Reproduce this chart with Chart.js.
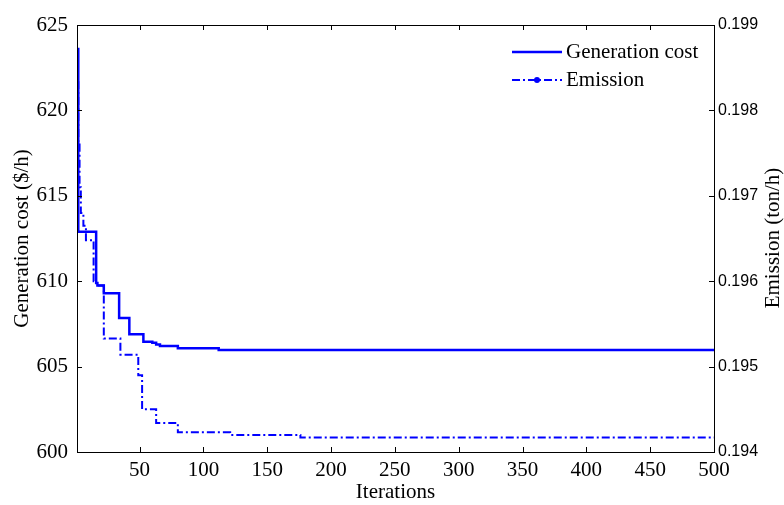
<!DOCTYPE html>
<html>
<head>
<meta charset="utf-8">
<script src="https://cdn.jsdelivr.net/npm/chart.js@4.4.1/dist/chart.umd.min.js"></script>
<style>
  html, body { margin: 0; padding: 0; background: #fff; }
  #wrap { width: 784px; height: 505px; }
</style>
</head>
<body>
<div id="wrap"><canvas id="convergence-chart"></canvas></div>
<script>
// Best-so-far generation cost and emission per iteration (values at each change point)
const costIters = [1, 2, 16, 17, 22, 34, 42, 53, 60, 63, 66, 80, 112, 500];
const costValues = [623.6, 612.9, 609.9, 609.75, 609.3, 607.85, 606.9, 606.45, 606.4, 606.3, 606.2, 606.08, 605.97, 605.97];

const emisIters = [1, 2, 3, 4, 6, 8, 14, 16, 22, 35, 49, 52, 63, 80, 121, 176, 500];
const emisValues = [0.19833, 0.1976, 0.1971, 0.1968, 0.19665, 0.19648, 0.1960, 0.19595, 0.19533, 0.19514, 0.1949, 0.1945, 0.19434, 0.19423, 0.1942, 0.19417, 0.19417];

const xTicks = [50, 100, 150, 200, 250, 300, 350, 400, 450, 500];
const costTicks = [600, 605, 610, 615, 620, 625];
const emisTicks = [0.194, 0.195, 0.196, 0.197, 0.198, 0.199];

const SERIF = '"Liberation Serif", "Times New Roman", serif';
const SANS = '"Liberation Sans", Arial, sans-serif';
const BLUE = 'rgb(0, 0, 255)';
const DASH_DOT = [8, 3, 2, 3];

Chart.defaults.color = '#000';

const toPoints = (xs, ys) => xs.map((x, i) => ({ x: x, y: ys[i] }));

// Box around the plot with MATLAB-style inward tick marks
const frameTicks = {
  id: 'frameTicks',
  afterDatasetsDraw(chart) {
    const { ctx, chartArea: a, scales } = chart;
    const len = 5;
    ctx.save();
    ctx.strokeStyle = '#000';
    ctx.lineWidth = 1;
    ctx.beginPath();
    scales.x.ticks.forEach(t => {
      const px = Math.round(scales.x.getPixelForValue(t.value)) + 0.5;
      ctx.moveTo(px, a.bottom); ctx.lineTo(px, a.bottom - len);
      ctx.moveTo(px, a.top); ctx.lineTo(px, a.top + len);
    });
    scales.y.ticks.forEach(t => {
      const py = Math.round(scales.y.getPixelForValue(t.value)) + 0.5;
      ctx.moveTo(a.left, py); ctx.lineTo(a.left + len, py);
    });
    scales.y1.ticks.forEach(t => {
      const py = Math.round(scales.y1.getPixelForValue(t.value)) + 0.5;
      ctx.moveTo(a.right, py); ctx.lineTo(a.right - len, py);
    });
    ctx.stroke();
    ctx.strokeRect(Math.round(a.left) + 0.5, Math.round(a.top) + 0.5,
      Math.round(a.right - a.left), Math.round(a.bottom - a.top));
    ctx.restore();
  }
};

// Legend without a box, plus the right axis title reading bottom-to-top
const overlay = {
  id: 'overlay',
  afterDraw(chart) {
    const { ctx } = chart;
    ctx.save();
    ctx.strokeStyle = BLUE;
    ctx.fillStyle = BLUE;

    ctx.lineWidth = 2.5;
    ctx.setLineDash([]);
    ctx.beginPath();
    ctx.moveTo(512, 52); ctx.lineTo(562, 52);
    ctx.stroke();

    ctx.lineWidth = 2;
    ctx.setLineDash(DASH_DOT);
    ctx.beginPath();
    ctx.moveTo(512, 80); ctx.lineTo(562, 80);
    ctx.stroke();
    ctx.setLineDash([]);
    ctx.beginPath();
    ctx.arc(537, 80, 3, 0, Math.PI * 2);
    ctx.fill();

    ctx.fillStyle = '#000';
    ctx.font = '21px ' + SERIF;
    ctx.textAlign = 'left';
    ctx.textBaseline = 'middle';
    ctx.fillText('Generation cost', 566, 52);
    ctx.fillText('Emission', 566, 80);

    ctx.translate(773, 238);
    ctx.rotate(-Math.PI / 2);
    ctx.textAlign = 'center';
    ctx.fillText('Emission (ton/h)', 0, 0);
    ctx.restore();
  }
};

new Chart(document.getElementById('convergence-chart'), {
  type: 'line',
  data: {
    datasets: [
      {
        label: 'Generation cost',
        data: toPoints(costIters, costValues),
        yAxisID: 'y',
        borderColor: BLUE,
        borderWidth: 2.5,
        stepped: true,
        pointRadius: 0,
        fill: false
      },
      {
        label: 'Emission',
        data: toPoints(emisIters, emisValues),
        yAxisID: 'y1',
        borderColor: BLUE,
        borderWidth: 2,
        borderDash: DASH_DOT,
        stepped: true,
        pointRadius: 0,
        fill: false
      }
    ]
  },
  options: {
    responsive: true,
    maintainAspectRatio: false,
    animation: false,
    layout: { padding: { top: 25, left: 0, right: 0, bottom: 0 } },
    plugins: {
      legend: { display: false },
      tooltip: { enabled: false }
    },
    scales: {
      x: {
        type: 'linear',
        min: 1,
        max: 500,
        afterBuildTicks: scale => { scale.ticks = xTicks.map(v => ({ value: v })); },
        afterFit: scale => { scale.height = 53; },
        grid: { display: false, drawTicks: false },
        border: { display: false },
        ticks: { font: { family: SERIF, size: 21 }, padding: 6, maxRotation: 0 },
        title: {
          display: true,
          text: 'Iterations',
          font: { family: SERIF, size: 21 },
          padding: { top: 0, bottom: 0 }
        }
      },
      y: {
        position: 'left',
        min: 600,
        max: 625,
        afterBuildTicks: scale => { scale.ticks = costTicks.map(v => ({ value: v })); },
        afterFit: scale => { scale.width = 77; },
        grid: { display: false, drawTicks: false },
        border: { display: false },
        ticks: { font: { family: SERIF, size: 21 }, padding: 9 },
        title: {
          display: true,
          text: 'Generation cost ($/h)',
          font: { family: SERIF, size: 21 },
          padding: { top: 10, bottom: 0 }
        }
      },
      y1: {
        position: 'right',
        min: 0.194,
        max: 0.199,
        afterBuildTicks: scale => { scale.ticks = emisTicks.map(v => ({ value: v })); },
        afterFit: scale => { scale.width = 70; },
        grid: { display: false, drawTicks: false },
        border: { display: false },
        ticks: {
          font: { family: SANS, size: 16 },
          padding: 4,
          callback: v => v.toFixed(3)
        }
      }
    }
  },
  plugins: [frameTicks, overlay]
});
</script>
</body>
</html>
